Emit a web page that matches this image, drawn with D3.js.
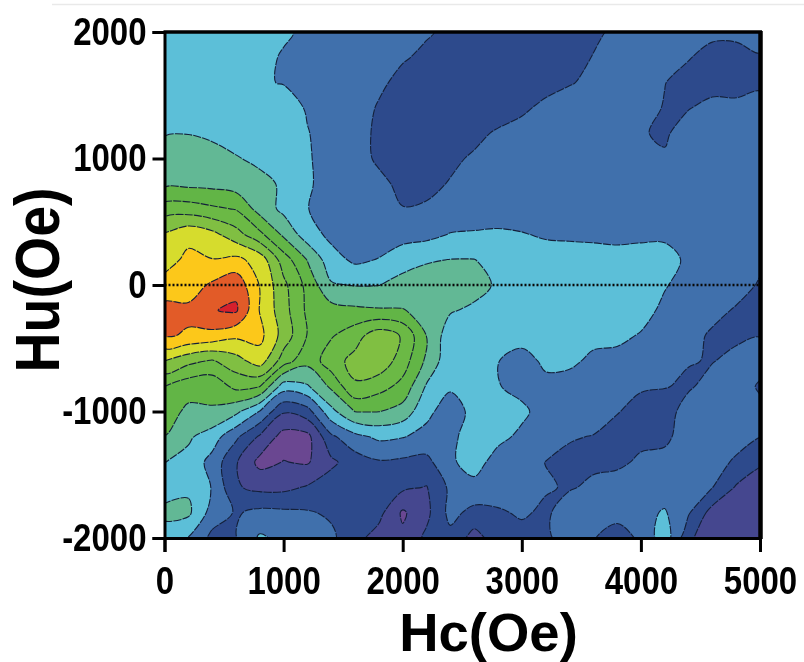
<!DOCTYPE html>
<html><head><meta charset="utf-8">
<script src="https://cdn.jsdelivr.net/npm/d3@7/dist/d3.min.js"></script>
<style>html,body{margin:0;padding:0;background:#fff}svg{display:block;filter:blur(.35px)}text{font-family:"Liberation Sans",Arial,sans-serif;font-weight:700;fill:#000}</style>
</head><body><svg id="c" width="804" height="662"></svg>
<script>
const hcTicks=[0,1000,2000,3000,4000,5000];
const huTicks=[-2000,-1000,0,1000,2000];
const hcStep=200, huStep=200;
const levels=[0,1,2,3,4,5,6,7,8,9,10,11,12];
const levelColors=["#6a4791","#45478f","#2d4a8c","#4070ac","#5cbfd8","#62b895","#62b546","#6bb945","#80bf42","#d6dc2d","#fcc81a","#e25b28","#d6202c"];
// field rows from Hu=2000 (top) to Hu=-2000, columns Hc=0..5000 every 200 Oe
const hu2000=[4.7,4.6,4.6,4.5,4.4,4.15,3.8,3.6,3.4,3.25,3.15,3.05,2.9,2.8,2.75,2.7,2.7,2.75,2.9,3.1,3.3,3.3,3.3,3.2,3.2,3.25];
const hu1800=[4.7,4.7,4.6,4.5,4.3,3.9,3.6,3.45,3.3,3.2,3.05,2.9,2.75,2.65,2.6,2.6,2.65,2.8,3.02,3.2,3.3,3.25,3.05,2.7,2.7,2.95];
const hu1600=[4.7,4.7,4.6,4.5,4.1,3.95,3.6,3.45,3.3,3.1,2.85,2.7,2.55,2.5,2.5,2.55,2.7,2.95,3.15,3.3,3.3,3.02,2.7,2.6,2.7,2.9];
const hu1400=[4.7,4.7,4.6,4.5,4.5,4.5,3.9,3.55,3.25,2.95,2.7,2.55,2.45,2.45,2.6,2.85,3.2,3.35,3.4,3.4,3.3,2.95,2.95,3.3,3.2,3.2];
const hu1200=[4.95,4.98,4.9,4.7,4.6,4.4,4.05,3.55,3.2,2.9,2.7,2.55,2.6,2.8,3.1,3.3,3.4,3.45,3.45,3.4,3.08,2.85,3.5,3.4,3.3,3.3];
const hu1000=[5.35,5.35,5.2,5.05,4.85,4.6,4.1,3.6,3.25,2.9,2.75,2.7,2.85,3.1,3.3,3.45,3.5,3.5,3.5,3.5,3.4,3.12,3.35,3.4,3.4,3.4];
const hu800=[5.75,5.75,5.7,5.5,5.2,4.9,4.1,3.7,3.4,3.15,2.85,2.8,3.05,3.25,3.4,3.5,3.55,3.55,3.6,3.6,3.5,3.45,3.45,3.5,3.5,3.5];
const hu600=[7.5,7.5,7.2,6.95,5.6,4.75,4.02,3.7,3.45,3.25,3.02,3.1,3.3,3.45,3.5,3.55,3.6,3.6,3.65,3.65,3.6,3.6,3.6,3.6,3.6,3.6];
const hu400=[9.1,9.75,9.3,8.4,7.25,5.8,4.45,3.75,3.5,3.45,3.6,3.7,4.05,4.1,4.15,4.05,3.9,3.85,3.8,3.75,3.85,3.9,3.8,3.7,3.65,3.65];
const hu200=[9.65,10.2,10.03,10.25,9.6,7.5,5.95,4.4,3.8,4.05,4.6,4.9,5.02,5.02,4.7,4.5,4.4,4.4,4.4,4.35,4.3,4.2,3.9,3.75,3.7,3.2];
const hu0=[10.3,10.55,11.15,11.7,9.95,8.25,6.7,5.1,4.95,4.98,5.35,5.5,5.5,5.4,4.85,4.6,4.5,4.5,4.5,4.45,4.35,4.05,3.75,3.7,3.4,2.9];
const huM200=[11.4,11.2,11.95,12.15,9.95,8.4,6.8,6.4,6.2,6.1,6.05,5.7,5.1,4.8,4.55,4.4,4.4,4.4,4.4,4.4,4.25,3.85,3.6,3.3,2.9,2.7];
const huM400=[11.1,10.9,10.7,10.2,10.3,8.6,6.95,6.9,7.6,8.6,7.9,5.98,4.4,4.5,4.35,4.3,4.3,4.25,4.2,4.15,3.95,3.55,3.35,2.85,2.8,2.98];
const huM600=[9.0,8.3,7.9,8.6,9.5,7.5,6.3,7.6,8.3,8.7,7.5,5.8,4.3,4.5,4.02,3.7,4.15,4.15,3.85,3.8,3.65,3.3,3.05,2.95,3.3,3.3];
const huM800=[7.02,6.4,6.3,7.3,7.05,4.5,4.9,6.2,7.9,7.4,6.7,4.9,4.15,4.5,4.05,3.7,3.8,3.7,3.65,3.55,3.1,3.05,2.85,3.4,3.4,2.9];
const huM1000=[6.45,5.8,5.9,5.25,3.95,2.1,2.6,4.7,6.02,6.02,5.6,4.25,3.5,4.3,4.4,4.2,3.6,3.5,3.55,3.05,2.7,2.5,3.5,3.5,3.5,3.2];
const huM1200=[5.98,5.15,4.5,3.2,1.85,0.6,0.7,2.8,3.7,4.2,4.05,3.7,3.8,4.4,4.25,3.8,3.55,3.1,2.95,2.65,2.7,2.8,3.45,3.4,3.4,3.02];
const huM1400=[5.02,4.7,3.65,2.1,0.7,1.03,0.9,1.8,2.5,2.9,2.8,2.7,3.85,4.4,3.6,3.5,2.98,2.7,2.8,2.75,3.2,3.3,3.5,3.4,2.85,2.1];
const huM1600=[4.65,4.85,3.95,2.1,1.75,1.75,2.1,2.5,2.6,2.6,2.2,1.95,3.2,3.7,3.6,3.45,3.1,2.9,3.2,3.55,3.5,3.5,3.6,3.02,1.9,1.6];
const huM1800=[5.2,5.2,3.6,2.9,3.25,3.2,3.1,2.85,2.6,2.3,0.85,1.75,3.3,2.7,2.85,3.15,2.8,3.6,3.7,3.3,3.7,4.1,3.1,1.6,1.3,1.2];
const huM2000=[4.6,3.95,2.7,2.95,4.15,3.7,3.6,3.2,2.3,1.6,1.2,2.2,2.7,1.6,2.5,2.6,2.8,3.5,3.05,2.6,3.15,4.6,2.2,1.3,1.15,1.05];
const fieldRows=[hu2000,hu1800,hu1600,hu1400,hu1200,hu1000,hu800,hu600,hu400,hu200,hu0,huM200,huM400,huM600,huM800,huM1000,huM1200,huM1400,huM1600,huM1800,huM2000];

const L=164.5,R=760,T=32,B=538;
const x=d3.scaleLinear().domain([0,5000]).range([L,R]);
const y=d3.scaleLinear().domain([-2000,2000]).range([B,T]);
const svg=d3.select("#c");
const nx=fieldRows[0].length,ny=fieldRows.length;
const contours=d3.contours().size([nx,ny]).smooth(true).thresholds(levels)(fieldRows.flat());
const ringLine=d3.line().x(p=>x((p[0]-.5)*hcStep)).y(p=>y(2000-(p[1]-.5)*huStep)).curve(d3.curveCatmullRomClosed.alpha(.5));
const contourPath=c=>c.coordinates.flatMap(poly=>poly.map(ring=>ringLine(ring.slice(0,-1)))).join("");
svg.append("line").attr("x1",52).attr("x2",804).attr("y1",4.5).attr("y2",4.5).attr("stroke","#e9e9e9").attr("stroke-width",1.5);
svg.append("clipPath").attr("id","plot").append("rect").attr("x",L).attr("y",T).attr("width",R-L).attr("height",B-T);
const plot=svg.append("g").attr("clip-path","url(#plot)");
plot.append("rect").attr("x",L).attr("y",T).attr("width",R-L).attr("height",B-T).attr("fill",levelColors[0]);
plot.selectAll("path").data(contours).join("path").attr("d",contourPath)
  .attr("fill",(d,i)=>levelColors[i])
  .attr("stroke",(d,i)=>i===0?"none":"#14203a").attr("stroke-width",1.1).attr("stroke-dasharray","8 1.2");
plot.append("line").attr("x1",L).attr("x2",R).attr("y1",y(0)).attr("y2",y(0)).attr("stroke","#0a0a0a").attr("stroke-width",2.5).attr("stroke-dasharray","2 2");
svg.append("line").attr("x1",L-1).attr("x2",R+2).attr("y1",T).attr("y2",T).attr("stroke","#000").attr("stroke-width",3.5);
svg.append("line").attr("x1",R+.5).attr("x2",R+.5).attr("y1",T-1).attr("y2",B+1).attr("stroke","#000").attr("stroke-width",4.5);
const ax=svg.append("g").attr("transform",`translate(0,${B})`).call(d3.axisBottom(x).tickValues(hcTicks).tickSize(14).tickFormat(String));
const ay=svg.append("g").attr("transform",`translate(${L},0)`).call(d3.axisLeft(y).tickValues(huTicks).tickSize(12).tickPadding(6).tickFormat(String));
const tickStretch=1.18;
[ax,ay].forEach(g=>{g.selectAll("path.domain").attr("stroke","#000").attr("stroke-width",3);g.selectAll("line").attr("stroke","#000").attr("stroke-width",3);g.selectAll("text").attr("font-size",33).attr("font-family",'"Liberation Sans",Arial,sans-serif').attr("font-weight",700).attr("fill","#000").attr("transform",`scale(1,${tickStretch})`);});
ax.selectAll("text").attr("dy",0).attr("y",56/tickStretch);
svg.append("text").attr("transform","translate(488.5,650.5) scale(1.09,1.06)").attr("text-anchor","middle").attr("font-size",50).text("Hc(Oe)");
svg.append("text").attr("transform","translate(58.5,280) rotate(-90) scale(1,1.12)").attr("text-anchor","middle").attr("font-size",55.5).text("Hu(Oe)");
</script></body></html>
